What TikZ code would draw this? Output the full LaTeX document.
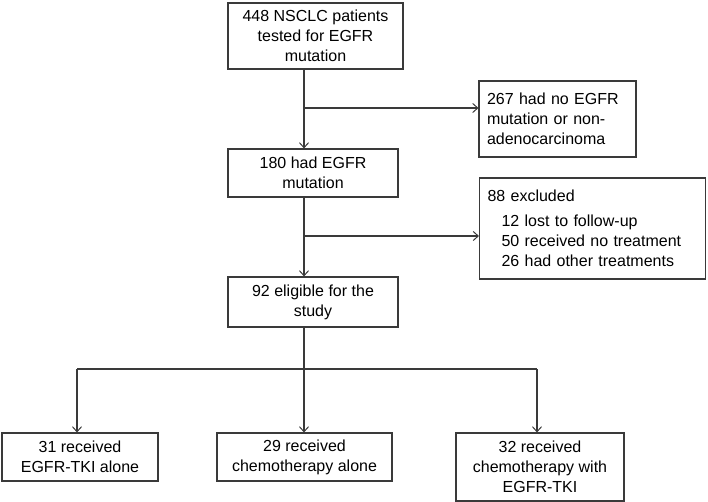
\documentclass[tikz,border=0pt]{standalone}
\usepackage{fontspec}
\setmainfont{Liberation Sans}
\usetikzlibrary{arrows.meta}
\definecolor{linegray}{HTML}{3A3A3A}
\begin{document}
\begin{tikzpicture}[x=1pt,y=-1pt,
  box/.style={draw=linegray, line width=1.1pt, inner ysep=0pt, inner xsep=0pt,
    font=\fontsize{16}{20}\selectfont, text=black},
  cbox/.style={box, align=center},
  lbox/.style={box, align=left, inner xsep=8pt},
  ln/.style={draw=linegray, line width=1.1pt},
  arr/.style={ln, -{Straight Barb[length=5pt,width=9pt,line width=1pt]}}]
\useasboundingbox (0,0) rectangle (708,502);

% boxes
\node[cbox, minimum width=175pt, minimum height=66pt] (top) at (315.5,36)
  {448 NSCLC patients\\tested for EGFR\\mutation};
\node[lbox, text width=141pt, minimum height=76pt] (n267) at (557.5,119)
  {267 had no EGFR\\mutation or non-\\adenocarcinoma};
\node[cbox, minimum width=170pt, minimum height=48pt] (n180) at (313,173)
  {180 had EGFR\\mutation};
\node[lbox, text width=210pt, minimum height=101pt] (n88) at (592.5,228.5)
  {88 excluded\\[5pt]
   \hspace*{14pt}12 lost to follow-up\\
   \hspace*{14pt}50 received no treatment\\
   \hspace*{14pt}26 had other treatments};
\node[cbox, minimum width=170pt, minimum height=50pt] (n92) at (313,302)
  {92 eligible for the\\study};
\node[cbox, minimum width=156pt, minimum height=48pt] (b1) at (80,457)
  {31 received\\EGFR-TKI alone};
\node[cbox, minimum width=175pt, minimum height=48pt] (b2) at (304.5,457)
  {29 received\\chemotherapy alone};
\node[cbox, minimum width=168pt, minimum height=68pt] (b3) at (540,467)
  {32 received\\chemotherapy with\\EGFR-TKI};

% spine coordinates
\coordinate (s1) at (304,108);
\coordinate (s2) at (304,236);
\coordinate (s3) at (304,369);
\coordinate (bl) at (77,369);
\coordinate (brr) at (537,369);

% connectors
\draw[ln] (s1 |- top.south) -- (s1);
\draw[arr] (s1) -- (s1 |- n180.north);
\draw[arr] (s1) -- (s1 -| n267.west);

\draw[ln] (s2 |- n180.south) -- (s2);
\draw[arr] (s2) -- (s2 |- n92.north);
\draw[arr] (s2) -- (s2 -| n88.west);

\draw[ln] (s3 |- n92.south) -- (s3);
\draw[ln] (bl) -- (brr);
\draw[arr] (bl) -- (bl |- b1.north);
\draw[arr] (s3) -- (s3 |- b2.north);
\draw[arr] (brr) -- (brr |- b3.north);
\end{tikzpicture}
\end{document}
